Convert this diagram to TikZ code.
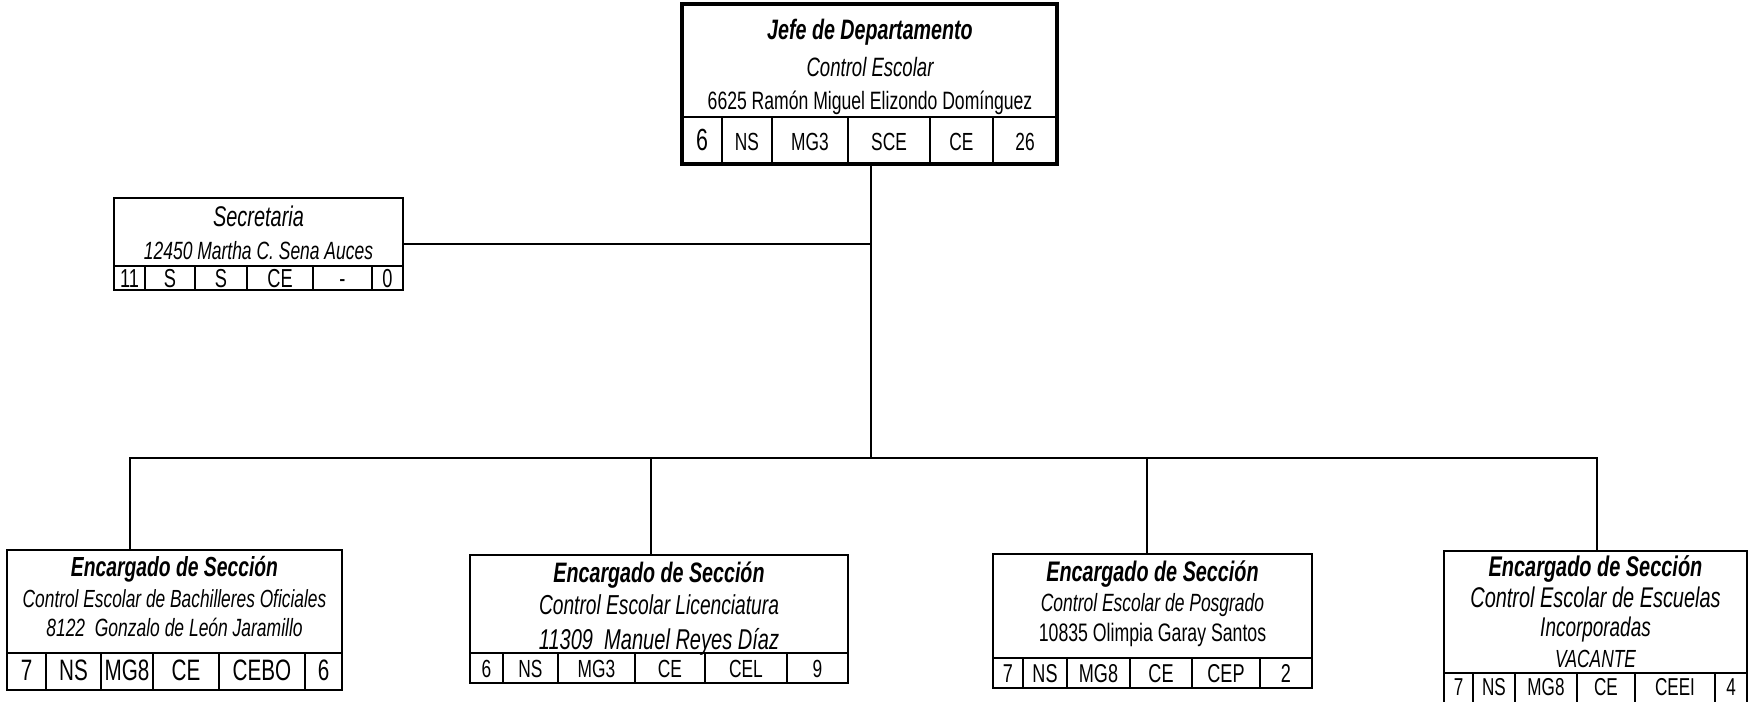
\documentclass[tikz,border=0pt]{standalone}
\usepackage{fontspec}
\setmainfont{Liberation Sans}[FakeStretch=0.7]
\usetikzlibrary{fit}
\newcommand\fsz[1]{\fontsize{#1}{#1}\selectfont}

\begin{document}
\begin{tikzpicture}[x=0.02cm,y=-0.02cm,line cap=rect,
  box/.style={draw,line width=1.2pt,inner sep=0pt},
  txt/.style={inner sep=0pt,text height=11pt,text depth=0pt},
  ttl/.style={txt,font=\fsz{#1}\bfseries\itshape},ttl/.default=16,
  itl/.style={txt,font=\fsz{#1}\itshape},
  rml/.style={txt,font=\fsz{#1}},
  cell/.style={txt,font=\fsz{#1}},cell/.default=14.7,
  link/.style={line width=1.1pt}]
\useasboundingbox (0,0) rectangle (1754,702);

\node[box,line width=2.3pt,fit={(682,4) (1057,164)}] (jefe) {};
\draw[line width=1.2pt] (682,117) -- (1057,117);
\foreach \x in {722,772,848,930,993} \draw[line width=1.2pt] (\x,117) -- (\x,164);
\node[ttl=16] (jefe-t) at (870,30) {Jefe de Departamento};
\node[itl=15.1] (jefe-a) at (870,67) {Control Escolar};
\node[rml=14.3] (jefe-n) at (870,100) {6625 Ramón Miguel Elizondo Domínguez};
\foreach \x/\t [count=\i] in {702/{\fsz{17.4}6},747/NS,810/MG3,889/SCE,961.5/CE,1025/26}
  \node[cell=14.1] (jefe-c\i) at (\x,140.5) {\t};

\node[box,fit={(114,198) (403,290)}] (sec) {};
\draw[line width=1.2pt] (114,266) -- (403,266);
\foreach \x in {145,195,247,313,372} \draw[line width=1.2pt] (\x,266) -- (\x,290);
\node[itl=16.2] (sec-t) at (258.5,217) {Secretaria};
\node[itl=14.2] (sec-n) at (258.5,250) {12450 Martha C. Sena Auces};
\foreach \x/\t [count=\i] in {129.5/11,170/S,221/S,280/CE,342.5/-,387.5/0}
  \node[cell=14.8] (sec-c\i) at (\x,278) {\t};

\node[box,fit={(7,550) (342,690)}] (bach) {};
\draw[line width=1.2pt] (7,653) -- (342,653);
\foreach \x in {46,101,153,219,305} \draw[line width=1.2pt] (\x,653) -- (\x,690);
\node[ttl=15.7] (bach-t) at (174.5,567) {Encargado de Sección};
\node[itl=14.1] (bach-a) at (174.5,598) {Control Escolar de Bachilleres Oficiales};
\node[itl=14.2] (bach-n) at (174.5,627) {8122\ \ Gonzalo de León Jaramillo};
\foreach \x/\t [count=\i] in {26.5/7,73.5/NS,127/MG8,186/CE,262/CEBO,323.5/6}
  \node[cell=16.8] (bach-c\i) at (\x,671) {\t};

\node[box,fit={(470,555) (848,683)}] (lic) {};
\draw[line width=1.2pt] (470,653) -- (848,653);
\foreach \x in {503,558,635,705,787} \draw[line width=1.2pt] (\x,653) -- (\x,683);
\node[ttl=16] (lic-t) at (659,573) {Encargado de Sección};
\node[itl=15.6] (lic-a) at (659,605) {Control Escolar Licenciatura};
\node[itl=16.3] (lic-n) at (659,640) {11309\ \ Manuel Reyes Díaz};
\foreach \x/\t [count=\i] in {486.5/6,530.5/NS,596.5/MG3,670/CE,746/CEL,817.5/9}
  \node[cell=14.1] (lic-c\i) at (\x,668) {\t};

\node[box,fit={(993,554) (1312,688)}] (pos) {};
\draw[line width=1.2pt] (993,658) -- (1312,658);
\foreach \x in {1023,1067,1130,1192,1260} \draw[line width=1.2pt] (\x,658) -- (\x,688);
\node[ttl=16.1] (pos-t) at (1152.5,572) {Encargado de Sección};
\node[itl=14.2] (pos-a) at (1152.5,602) {Control Escolar de Posgrado};
\node[rml=14.4] (pos-n) at (1152.5,632) {10835 Olimpia Garay Santos};
\foreach \x/\t [count=\i] in {1008/7,1045/NS,1098.5/MG8,1161/CE,1226/CEP,1286/2}
  \node[cell=14.7] (pos-c\i) at (\x,673) {\t};

\node[box,fit={(1444,551) (1747,710)}] (inc) {};
\draw[line width=1.2pt] (1444,673) -- (1747,673);
\foreach \x in {1473,1515,1577,1635,1715} \draw[line width=1.2pt] (\x,673) -- (\x,710);
\node[ttl=16.2] (inc-t) at (1595.5,567) {Encargado de Sección};
\node[itl=16.2] (inc-a) at (1595.5,598) {Control Escolar de Escuelas};
\node[itl=15.4] (inc-b) at (1595.5,627) {Incorporadas};
\node[itl=14.1] (inc-n) at (1595.5,658) {VACANTE};
\foreach \x/\t [count=\i] in {1458.5/7,1494/NS,1546/MG8,1606/CE,1675/CEEI,1731/4}
  \node[cell=13.9] (inc-c\i) at (\x,686) {\t};

\coordinate (hub) at (871,458);
\coordinate (bus1) at (130,458);
\coordinate (bus2) at (651,458);
\coordinate (bus3) at (1147,458);
\coordinate (bus4) at (1597,458);
\draw[link] (hub |- jefe.south) -- (hub);
\draw[link] (sec.east) -- (sec.east -| hub);
\draw[link] (bus1) -- (bus4);
\foreach \b/\n in {bus1/bach,bus2/lic,bus3/pos,bus4/inc}
  \draw[link] (\b) -- (\b |- \n.north);
\end{tikzpicture}
\end{document}
